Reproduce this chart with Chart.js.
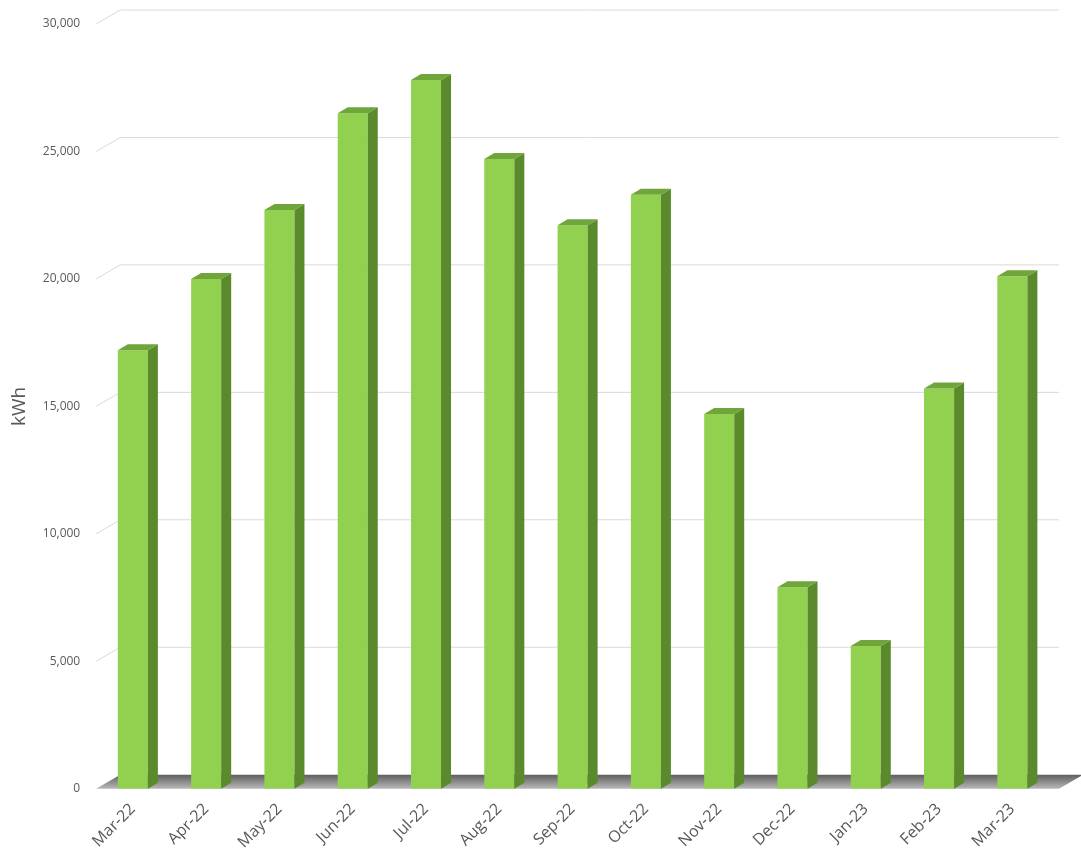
<!DOCTYPE html>
<html>
<head>
<meta charset="utf-8">
<script src="https://cdn.jsdelivr.net/npm/chart.js@4"></script>
<style>
  body { margin: 0; background: #fff; }
  #wrap { width: 1081px; height: 859px; }
</style>
</head>
<body>
<div id="wrap"><canvas id="chart"></canvas></div>
<script>
var months = ["Mar-22", "Apr-22", "May-22", "Jun-22", "Jul-22", "Aug-22", "Sep-22",
              "Oct-22", "Nov-22", "Dec-22", "Jan-23", "Feb-23", "Mar-23"];
var kwh = [17200, 20000, 22700, 26500, 27800, 24700, 22100, 23300, 14700, 7900, 5600, 15700, 20100];
var yTicks = [0, 5000, 10000, 15000, 20000, 25000, 30000];

var DX = 10, DY = 6;      // bar depth
var GX = 24, GY = 14;     // back wall offset

var threeD = {
  id: "threeD",
  beforeDatasetsDraw: function(chart) {
    var ctx = chart.ctx, y = chart.scales.y, a = chart.chartArea;
    ctx.save();
    ctx.strokeStyle = "#d9d9d9";
    ctx.lineWidth = 1;
    yTicks.forEach(function(t) {
      if (t === 0) return;
      var py = y.getPixelForValue(t);
      ctx.beginPath();
      ctx.moveTo(a.left, py);
      ctx.lineTo(a.left + GX, py - GY);
      ctx.lineTo(a.right + 10, py - GY);
      ctx.stroke();
    });
    var fy = y.getPixelForValue(0);
    var g = ctx.createLinearGradient(0, fy - GY, 0, fy);
    g.addColorStop(0, "#5e5e5e");
    g.addColorStop(1, "#b8b8b8");
    ctx.fillStyle = g;
    ctx.beginPath();
    ctx.moveTo(a.left, fy);
    ctx.lineTo(a.left + GX, fy - GY);
    ctx.lineTo(a.right + 10 + GX, fy - GY);
    ctx.lineTo(a.right + 10, fy);
    ctx.closePath();
    ctx.fill();
    ctx.restore();
  },
  afterDatasetsDraw: function(chart) {
    var ctx = chart.ctx;
    var meta = chart.getDatasetMeta(0);
    ctx.save();
    meta.data.forEach(function(bar) {
      var p = bar.getProps(["x", "y", "base", "width"], true);
      var l = p.x - p.width / 2, r = p.x + p.width / 2;
      ctx.fillStyle = "#5b8a2d";
      ctx.beginPath();
      ctx.moveTo(r, p.y);
      ctx.lineTo(r + DX, p.y - DY);
      ctx.lineTo(r + DX, p.base - DY);
      ctx.lineTo(r, p.base);
      ctx.closePath();
      ctx.fill();
      ctx.fillStyle = "#6fa53a";
      ctx.beginPath();
      ctx.moveTo(l, p.y);
      ctx.lineTo(l + DX, p.y - DY);
      ctx.lineTo(r + DX, p.y - DY);
      ctx.lineTo(r, p.y);
      ctx.closePath();
      ctx.fill();
    });
    ctx.restore();
  }
};

new Chart(document.getElementById("chart"), {
  type: "bar",
  data: {
    labels: months,
    datasets: [{
      data: kwh,
      backgroundColor: "#92d050",
      barPercentage: 0.41,
      categoryPercentage: 1.0
    }]
  },
  options: {
    responsive: true,
    maintainAspectRatio: false,
    animation: false,
    layout: { padding: { top: 24, right: 32, left: 4, bottom: 4 } },
    plugins: { legend: { display: false }, tooltip: { enabled: false } },
    scales: {
      x: {
        grid: { display: false },
        border: { display: false },
        ticks: {
          minRotation: 45, maxRotation: 45,
          color: "#595959",
          font: { family: "Open Sans", size: 16 }
        }
      },
      y: {
        min: 0, max: 30000,
        afterBuildTicks: function(axis) {
          axis.ticks = yTicks.map(function(v) { return { value: v }; });
        },
        grid: { display: false },
        border: { display: false },
        title: {
          display: true, text: "kWh", color: "#595959",
          font: { family: "Open Sans", size: 19 }
        },
        ticks: {
          color: "#595959", padding: 8,
          font: { family: "Open Sans", size: 12 },
          callback: function(v) { return v.toLocaleString("en-US"); }
        }
      }
    }
  },
  plugins: [threeD]
});
</script>
</body>
</html>
